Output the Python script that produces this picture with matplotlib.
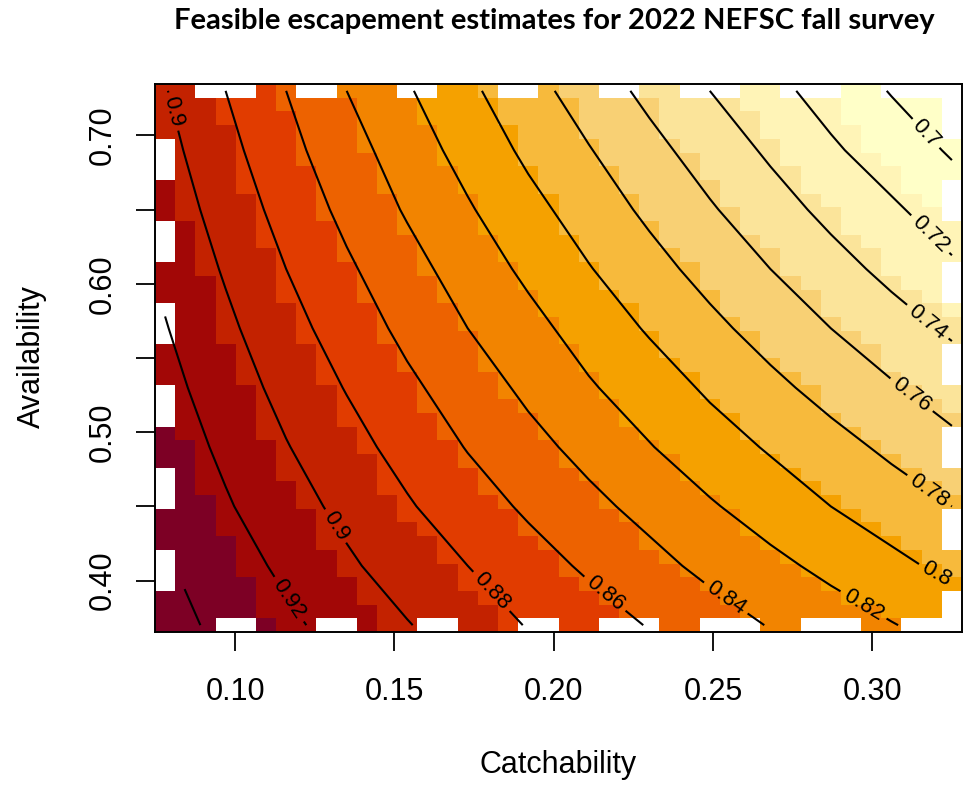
import numpy as np
import matplotlib
matplotlib.use("Agg")
import matplotlib.pyplot as plt
from matplotlib.colors import ListedColormap, BoundaryNorm

# image cells: 40 x 40 grid (catchability x availability), cell centres
catch = np.linspace(0.078, 0.325, 40)
avail = np.linspace(0.37, 0.73, 40)

# colour band of every cell (top row first):
# (first band, run lengths); band 0 = darkest red ... 11 = palest yellow
band_runs = [
    (2, [3, 3, 3, 4, 3, 4, 4, 5, 4, 7]),
    (2, [3, 3, 4, 3, 4, 4, 4, 4, 5, 6]),
    (2, [3, 4, 3, 3, 4, 4, 4, 5, 4, 6]),
    (2, [4, 3, 3, 4, 4, 3, 4, 5, 5, 5]),
    (1, [1, 3, 3, 3, 4, 4, 4, 4, 5, 4, 5]),
    (1, [1, 3, 3, 4, 3, 4, 4, 5, 4, 5, 4]),
    (1, [1, 3, 4, 3, 4, 4, 4, 4, 5, 5, 3]),
    (1, [1, 3, 4, 3, 4, 4, 4, 5, 4, 5, 3]),
    (1, [1, 4, 3, 4, 4, 4, 4, 4, 5, 5, 2]),
    (1, [1, 4, 3, 4, 4, 4, 4, 5, 5, 5, 1]),
    (1, [2, 3, 4, 3, 4, 4, 5, 4, 5, 6]),
    (1, [2, 3, 4, 4, 4, 4, 4, 5, 5, 5]),
    (1, [2, 4, 3, 4, 4, 4, 5, 5, 5, 4]),
    (1, [2, 4, 4, 3, 5, 4, 5, 4, 5, 4]),
    (1, [3, 3, 4, 4, 4, 4, 5, 5, 5, 3]),
    (1, [3, 3, 4, 4, 5, 4, 5, 5, 5, 2]),
    (1, [3, 4, 4, 4, 4, 5, 4, 5, 6, 1]),
    (1, [3, 4, 4, 4, 5, 4, 5, 5, 6]),
    (1, [3, 4, 4, 5, 4, 5, 5, 5, 5]),
    (1, [4, 4, 4, 4, 5, 4, 5, 6, 4]),
    (1, [4, 4, 4, 4, 5, 5, 5, 5, 4]),
    (1, [4, 4, 5, 4, 5, 5, 5, 5, 3]),
    (0, [1, 4, 4, 4, 4, 5, 5, 6, 5, 2]),
    (0, [1, 4, 4, 4, 5, 5, 5, 5, 6, 1]),
    (0, [1, 4, 4, 5, 5, 4, 6, 5, 6]),
    (0, [1, 4, 5, 4, 5, 5, 5, 6, 5]),
    (0, [2, 4, 4, 5, 5, 5, 5, 6, 4]),
    (0, [2, 4, 5, 4, 5, 6, 5, 6, 3]),
    (0, [2, 4, 5, 5, 5, 5, 6, 6, 2]),
    (0, [2, 5, 4, 5, 6, 5, 6, 6, 1]),
    (0, [3, 4, 5, 5, 5, 6, 6, 6]),
    (0, [3, 5, 4, 6, 5, 6, 6, 5]),
    (0, [3, 5, 5, 5, 6, 5, 7, 4]),
    (0, [4, 4, 6, 5, 5, 6, 7, 3]),
    (0, [4, 5, 5, 6, 5, 6, 7, 2]),
    (0, [4, 5, 6, 5, 6, 6, 7, 1]),
    (0, [5, 5, 5, 6, 6, 6, 7]),
    (0, [5, 5, 6, 6, 6, 6, 6]),
    (0, [5, 6, 6, 6, 6, 7, 4]),
    (0, [6, 5, 6, 6, 7, 7, 3]),
]

# empty (white) cells along the border
top_na = [2, 3, 4, 7, 8, 12, 13, 17, 18, 22, 23, 26, 27, 28, 31, 32, 33, 36, 37, 38, 39]
bottom_na = [3, 4, 8, 9, 13, 14, 18, 19, 22, 23, 24, 27, 28, 29, 32, 33, 34, 37, 38, 39]
left_na = [4, 5, 6, 10, 11, 12, 16, 17, 18, 22, 23, 24, 28, 29, 30, 34, 35, 36]
right_na = [0, 1, 2, 3, 7, 8, 9, 13, 14, 15, 19, 20, 21, 25, 26, 27, 31, 32, 33, 37, 38, 39]

# escapement read at coarse points for the contour lines (top row = availability 0.73)
cq = np.linspace(0.078, 0.325, 14)
ca = np.linspace(0.73, 0.37, 10)
esc = [
    [0.901, 0.880, 0.860, 0.840, 0.822, 0.804, 0.787, 0.771, 0.755, 0.740, 0.726, 0.712, 0.699, 0.686],
    [0.906, 0.886, 0.866, 0.848, 0.830, 0.813, 0.796, 0.781, 0.766, 0.751, 0.737, 0.723, 0.710, 0.698],
    [0.911, 0.892, 0.873, 0.855, 0.838, 0.822, 0.806, 0.791, 0.776, 0.762, 0.748, 0.735, 0.723, 0.710],
    [0.916, 0.898, 0.880, 0.863, 0.847, 0.831, 0.816, 0.801, 0.787, 0.773, 0.760, 0.747, 0.735, 0.723],
    [0.921, 0.904, 0.887, 0.871, 0.855, 0.840, 0.826, 0.812, 0.798, 0.785, 0.772, 0.760, 0.748, 0.737],
    [0.926, 0.910, 0.894, 0.879, 0.864, 0.850, 0.836, 0.822, 0.810, 0.797, 0.785, 0.773, 0.762, 0.751],
    [0.931, 0.916, 0.901, 0.887, 0.873, 0.859, 0.846, 0.834, 0.821, 0.809, 0.798, 0.787, 0.776, 0.765],
    [0.937, 0.922, 0.908, 0.895, 0.882, 0.869, 0.857, 0.845, 0.834, 0.822, 0.811, 0.800, 0.790, 0.780],
    [0.942, 0.929, 0.916, 0.903, 0.891, 0.880, 0.868, 0.857, 0.846, 0.835, 0.825, 0.815, 0.805, 0.795],
    [0.947, 0.935, 0.924, 0.912, 0.901, 0.890, 0.879, 0.869, 0.859, 0.849, 0.839, 0.830, 0.821, 0.812],
]
levels = [0.70, 0.72, 0.74, 0.76, 0.78, 0.80, 0.82, 0.84, 0.86, 0.88, 0.90, 0.92, 0.94]
label_at = [(0.0805, 0.716), (0.1166, 0.387), (0.1317, 0.437), (0.1801, 0.392), (0.2160, 0.391),
            (0.2541, 0.3885), (0.2975, 0.3845), (0.3200, 0.4045), (0.3175, 0.4596), (0.3122, 0.5248),
            (0.3175, 0.5746), (0.3185, 0.6341), (0.3170, 0.7016), (0.0810, 0.411)]

pal = ["#7D0025", "#A20706", "#C32200", "#E13C00", "#ED6200", "#F28400",
       "#F5A100", "#F7BA3C", "#F8D074", "#FBE49A", "#FFF4B7", "#FFFFC8"]

band = np.array([np.repeat(np.arange(s, s + len(r)), r) for s, r in band_runs])
na = np.zeros(band.shape, bool)
na[0, top_na] = True
na[-1, bottom_na] = True
na[left_na, 0] = True
na[right_na, -1] = True
cells = np.ma.masked_array(band, na)[::-1]

dq = catch[1] - catch[0]
da = avail[1] - avail[0]
q_edges = np.append(catch - dq / 2, catch[-1] + dq / 2)
a_edges = np.append(avail - da / 2, avail[-1] + da / 2)

fig = plt.figure(figsize=(9.63, 7.86), dpi=100)
ax = fig.add_axes([155 / 963, 1 - 632 / 786, 807 / 963, 548 / 786])
ax.pcolormesh(q_edges, a_edges, cells, cmap=ListedColormap(pal),
              norm=BoundaryNorm(np.arange(-0.5, 12), 12))

cs = ax.contour(cq, ca, np.array(esc), levels=levels, colors="black", linewidths=1.5)
labs = ax.clabel(cs, levels, manual=label_at, inline=True, inline_spacing=2,
                 fontsize=16, fmt=lambda v: "%g" % round(v, 2))
for t in labs:
    t.set_family("Liberation Sans")
    if t.get_text() == "0.94":
        t.set_visible(False)

ax.set_xlim(q_edges[0], q_edges[-1])
ax.set_ylim(a_edges[0], a_edges[-1])
ax.set_xticks([0.10, 0.15, 0.20, 0.25, 0.30])
ax.set_xticklabels(["0.10", "0.15", "0.20", "0.25", "0.30"])
ax.set_yticks([0.40, 0.45, 0.50, 0.55, 0.60, 0.65, 0.70])
ax.set_yticklabels(["0.40", "", "0.50", "", "0.60", "", "0.70"], rotation=90, va="center")
ax.tick_params(length=13.5, width=1.3, direction="out", labelsize=22)
ax.tick_params(axis="x", pad=19)
ax.tick_params(axis="y", pad=13)
for lab in ax.get_xticklabels() + ax.get_yticklabels():
    lab.set_family("Liberation Sans")
for sp in ax.spines.values():
    sp.set_linewidth(1.4)

fig.text(558.5 / 963, 1 - 765 / 786, "Catchability", ha="center", va="center",
         fontsize=22, family="Liberation Sans")
fig.text(32 / 963, 1 - 357 / 786, "Availability", ha="center", va="center", rotation=90,
         fontsize=22, family="Liberation Sans")

title = fig.text(554 / 963, 1 - 21 / 786, "Feasible escapement estimates for 2022 NEFSC fall survey",
                 ha="center", va="center", fontsize=20, fontweight="bold", family="Lato")
w = title.get_window_extent(fig.canvas.get_renderer()).width
title.set_fontsize(20 * 760 / w)

fig.savefig("out.png")
